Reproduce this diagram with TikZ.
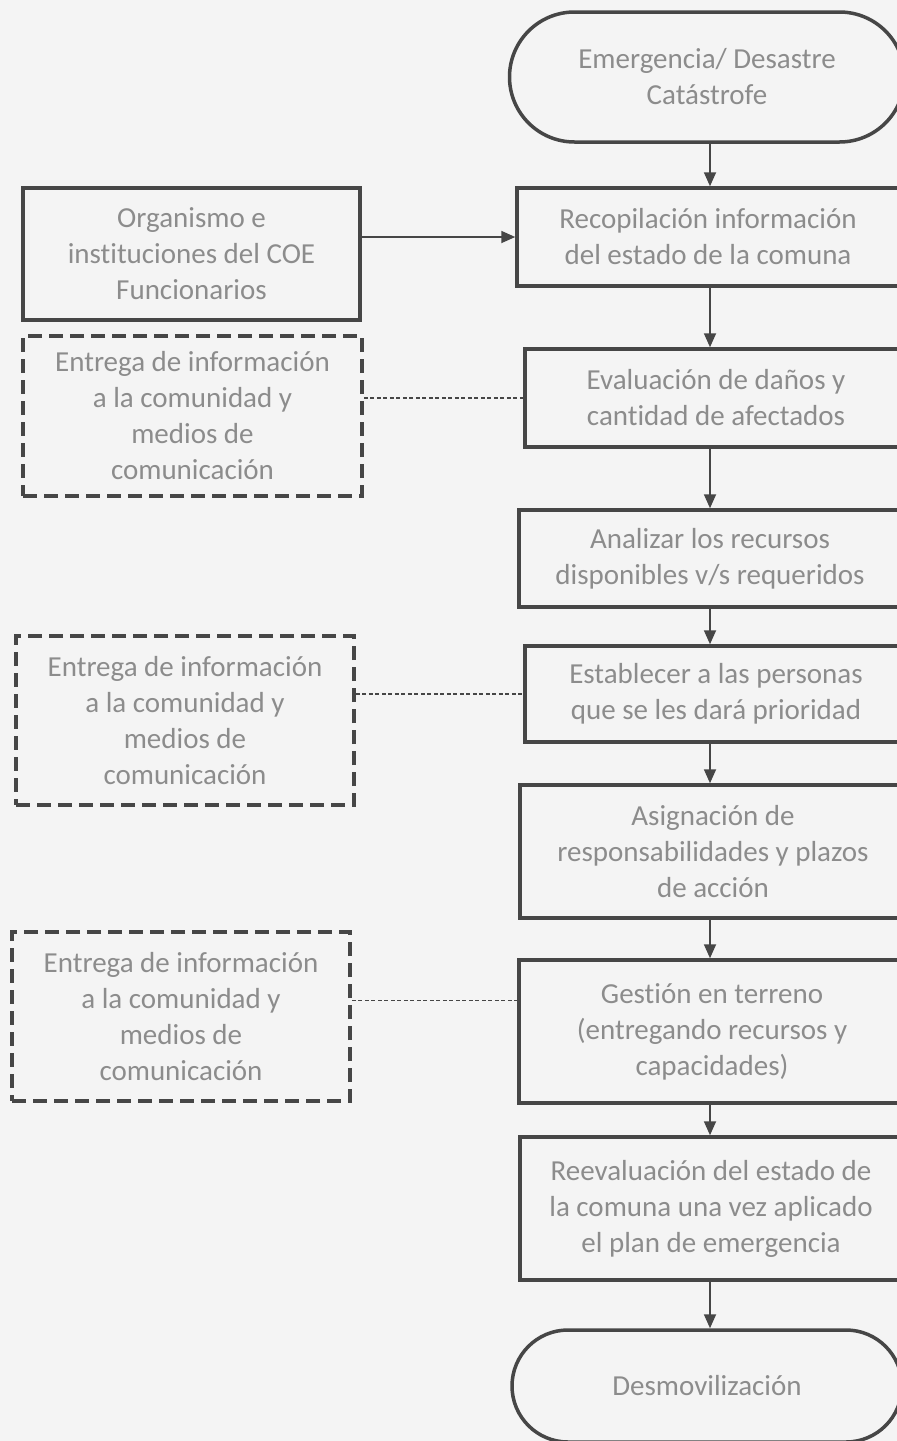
\documentclass[tikz,border=0pt]{standalone}
\usepackage{fontspec}
\setmainfont{Carlito}[Ligatures=NoCommon]
\usetikzlibrary{arrows.meta,shapes.misc}

\definecolor{fondo}{HTML}{F4F4F4}
\definecolor{trazo}{HTML}{464646}
\definecolor{letra}{HTML}{8C8C8C}

\tikzset{
  caja/.style={draw=trazo, line width=3.5pt, inner sep=0pt, align=center,
    text=letra, font=\fontsize{29}{36}\selectfont},
  paso/.style={caja, rectangle},
  terminal/.style={caja, rounded rectangle, rounded rectangle arc length=180},
  aviso/.style={caja, rectangle, dash pattern=on 14pt off 7pt},
  flecha/.style={draw=trazo, line width=1.8pt, -{Triangle[length=14pt,width=12pt]}},
  enlace/.style={draw=trazo, line width=1.5pt, dash pattern=on 4pt off 2.5pt}
}

\begin{document}
\begin{tikzpicture}[x=1pt,y=-1pt]
  \useasboundingbox (0,0) rectangle (897,1441);
  \fill[fondo] (0,0) rectangle (897,1441);
  \clip (0,0) rectangle (897,1441);

  % columna derecha
  \node[terminal, minimum width=395pt, minimum height=130pt] (inicio) at (707,77)
    {Emergencia/ Desastre\\Catástrofe};
  \node[paso, minimum width=382pt, minimum height=98pt] (recopila) at (708,237)
    {Recopilación información\\del estado de la comuna};
  \node[paso, minimum width=382pt, minimum height=98pt] (evalua) at (716,398)
    {Evaluación de daños y\\cantidad de afectados};
  \node[paso, minimum width=382pt, minimum height=97pt] (analiza) at (710,558.5)
    {Analizar los recursos\\disponibles v/s requeridos};
  \node[paso, minimum width=382pt, minimum height=96pt] (prioriza) at (716,694)
    {Establecer a las personas\\que se les dará prioridad};
  \node[paso, minimum width=386pt, minimum height=133pt] (asigna) at (713,851.5)
    {Asignación de\\responsabilidades y plazos\\de acción};
  \node[paso, minimum width=386pt, minimum height=143pt] (gestion) at (712,1031.5)
    {Gestión en terreno\\(entregando recursos y\\capacidades)};
  \node[paso, minimum width=382pt, minimum height=143pt] (reevalua) at (711,1208.5)
    {Reevaluación del estado de\\la comuna una vez aplicado\\el plan de emergencia};
  \node[terminal, minimum width=390pt, minimum height=112pt] (fin) at (707,1386)
    {Desmovilización};

  % columna izquierda
  \node[paso, minimum width=337pt, minimum height=132pt] (organismo) at (191.5,254)
    {Organismo e\\instituciones del COE\\Funcionarios};
  \node[aviso, minimum width=339pt, minimum height=160pt] (entrega1) at (192.5,416)
    {Entrega de información\\a la comunidad y\\medios de\\comunicación};
  \node[aviso, minimum width=338pt, minimum height=169pt] (entrega2) at (185,720.5)
    {Entrega de información\\a la comunidad y\\medios de\\comunicación};
  \node[aviso, minimum width=338pt, minimum height=169pt] (entrega3) at (181,1016.5)
    {Entrega de información\\a la comunidad y\\medios de\\comunicación};

  \coordinate (eje) at (710,0);

  % flujo principal
  \foreach \a/\b in {inicio/recopila, recopila/evalua, evalua/analiza, analiza/prioriza,
      prioriza/asigna, asigna/gestion, gestion/reevalua, reevalua/fin}
    \draw[flecha] (\a.south -| eje) -- (\b.north -| eje);

  \draw[flecha] (organismo.east |- recopila.west) -- (recopila.west);

  % avisos
  \draw[enlace] (entrega1.east |- evalua.west) -- (evalua.west);
  \draw[enlace] (entrega2.east |- prioriza.west) -- (prioriza.west);
  \draw[enlace] ([yshift=16pt]entrega3.east) -- ([yshift=16pt]entrega3.east -| gestion.west);
\end{tikzpicture}
\end{document}
